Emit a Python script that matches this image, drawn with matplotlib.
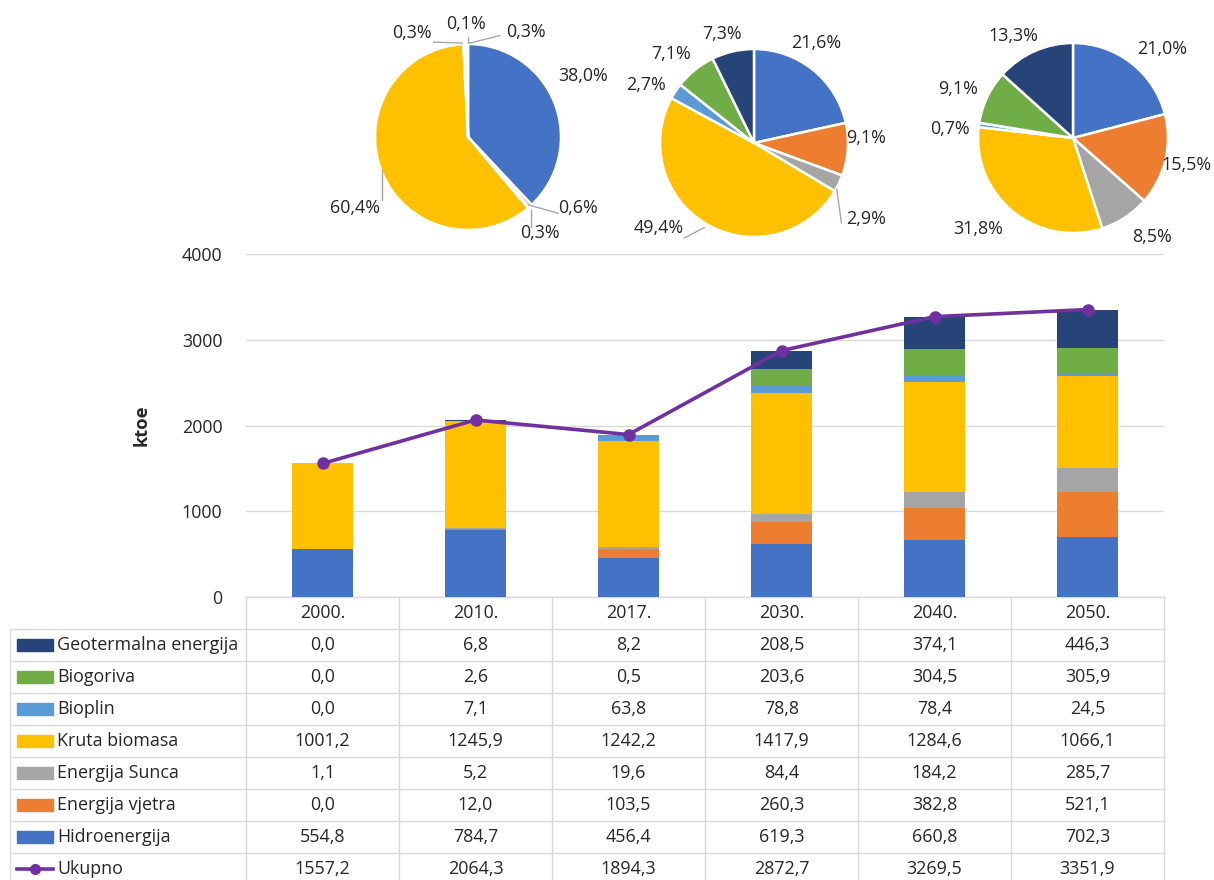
import matplotlib
matplotlib.use('Agg')
import matplotlib.pyplot as plt
from matplotlib.patches import Rectangle
from matplotlib.lines import Line2D
import numpy as np

plt.rcParams['font.family'] = ['Open Sans', 'DejaVu Sans']

# ---------------- data ----------------
years = ['2000.', '2010.', '2017.', '2030.', '2040.', '2050.']
series_names = ['Hidroenergija', 'Energija vjetra', 'Energija Sunca', 'Kruta biomasa',
                'Bioplin', 'Biogoriva', 'Geotermalna energija']
hidro = [554.8, 784.7, 456.4, 619.3, 660.8, 702.3]
vjetar = [0.0, 12.0, 103.5, 260.3, 382.8, 521.1]
sunce = [1.1, 5.2, 19.6, 84.4, 184.2, 285.7]
kruta = [1001.2, 1245.9, 1242.2, 1417.9, 1284.6, 1066.1]
bioplin = [0.0, 7.1, 63.8, 78.8, 78.4, 24.5]
biogoriva = [0.0, 2.6, 0.5, 203.6, 304.5, 305.9]
geo = [0.0, 6.8, 8.2, 208.5, 374.1, 446.3]
ukupno = [1557.2, 2064.3, 1894.3, 2872.7, 3269.5, 3351.9]
total_name = 'Ukupno'
pie_years = ['2010.', '2030.', '2050.']
y_ticks = [0, 1000, 2000, 3000, 4000]
y_label = 'ktoe'

# ---------------- style ----------------
colors = ['#4472C4', '#ED7D31', '#A5A5A5', '#FFC000', '#5B9BD5', '#70AD47', '#264478']
line_color = '#7030A0'
grid_color = '#D9D9D9'
text_color = '#262626'
fs = 12.9

W, H = 1214, 880
fig = plt.figure(figsize=(W / 100, H / 100), dpi=100)

def fx(px):
    return px / W

def fy(py):
    return 1 - py / H

# overlay axes for table (pixel coords)
tax = fig.add_axes([0, 0, 1, 1])
tax.set_xlim(0, W)
tax.set_ylim(H, 0)
tax.axis('off')
tax.set_zorder(0)

# ---------------- bar chart ----------------
pl, pr, pt, pb = 246, 1164, 254, 597
ax = fig.add_axes([fx(pl), fy(pb), fx(pr - pl), (pb - pt) / H])
ax.set_zorder(2)
ax.patch.set_alpha(0)
series = [hidro, vjetar, sunce, kruta, bioplin, biogoriva, geo]
x = np.arange(len(years))
bottom = np.zeros(len(years))
for vals, c in zip(series, colors):
    ax.bar(x, vals, 0.4, bottom=bottom, color=c, zorder=2)
    bottom += np.array(vals)
ax.plot(x, ukupno, color=line_color, lw=2.6, marker='o', ms=8, zorder=4)
ax.set_xlim(-0.5, len(years) - 0.5)
ax.set_ylim(y_ticks[0], y_ticks[-1])
ax.set_yticks(y_ticks)
ax.set_yticklabels([str(t) for t in y_ticks], fontsize=fs, color=text_color)
ax.tick_params(axis='y', length=0, pad=17)
ax.set_xticks([])
for s in ax.spines.values():
    s.set_visible(False)
ax.yaxis.grid(True, color=grid_color, lw=1, zorder=0)
ax.set_axisbelow(True)
ax.set_ylabel(y_label, fontsize=fs + 0.3, fontweight='bold', color=text_color)
ax.yaxis.set_label_coords((151 - pl) / (pr - pl), 0.5)

# ---------------- data table ----------------
ncol = len(years)
colw = (pr - pl) / ncol
row_h = 32
header_top = pb
first_row = 629
lc = grid_color
tax.plot([pl, pr], [header_top, header_top], color=lc, lw=1)
for k in range(ncol + 1):
    tax.plot([pl + k * colw] * 2, [header_top, H + 10], color=lc, lw=1)
for k, yr in enumerate(years):
    tax.text(pl + (k + 0.5) * colw, (header_top + first_row) / 2, yr, ha='center', va='center',
             fontsize=fs, color=text_color)
rows = [(series_names[i], series[i], colors[i]) for i in range(len(series) - 1, -1, -1)]
rows.append((total_name, ukupno, None))
tax.plot([10, 10], [first_row, H + 10], color=lc, lw=1)
for r, (name, vals, c) in enumerate(rows):
    y0 = first_row + r * row_h
    tax.plot([10, pr], [y0, y0], color=lc, lw=1)
    yc = y0 + row_h / 2
    if c is not None:
        tax.add_patch(Rectangle((17, yc - 6), 36, 12, color=c))
    else:
        tax.add_line(Line2D([17, 53], [yc, yc], color=line_color, lw=2.6))
        tax.plot([35], [yc], marker='o', ms=7, color=line_color)
    tax.text(57, yc, name, ha='left', va='center', fontsize=fs, color=text_color)
    for k, v in enumerate(vals):
        tax.text(pl + (k + 0.5) * colw, yc, f'{v:.1f}'.replace('.', ','), ha='center',
                 va='center', fontsize=fs, color=text_color)

# ---------------- pies ----------------
pie_geom = [((468, 137), 93), ((754, 143), 94), ((1073, 138), 95)]
label_pos = [
    [(1.24, 0.66), (1.18, -0.76), (0.77, -1.03), (-1.22, -0.76), (-0.60, 1.12), (-0.02, 1.22), (0.62, 1.13)],
    [(0.66, 1.06), (1.19, 0.05), (1.19, -0.81), (-1.01, -0.90), (-1.15, 0.62), (-0.88, 0.95), (-0.34, 1.16)],
    [(0.94, 0.94), (1.19, -0.28), (0.83, -1.04), (-1.00, -0.96), (-1.30, 0.10), (-1.21, 0.52), (-0.63, 1.07)],
]
leaders = [
    [((0.65, -0.73), (0.97, -0.82)), ((0.68, -0.78), (0.68, -0.97)), ((-0.92, -0.35), (-0.92, -0.68)),
     ((-0.06, 1.01), (-0.37, 1.02)), ((0.0, 1.01), (0.0, 1.08)), ((0.02, 1.01), (0.34, 1.09))],
    [((0.88, -0.49), (0.93, -0.85)), ((-0.53, -0.90), (-0.74, -1.01))],
    [],
]
for p, yr in enumerate(pie_years):
    idx = years.index(yr)
    vals = [s[idx] for s in series]
    tot = sum(vals)
    (cx, cy), r = pie_geom[p]
    pax = fig.add_axes([fx(cx - r), fy(cy + r), 2 * r / W, 2 * r / H])
    pax.set_zorder(3)
    pax.pie(vals, colors=colors, startangle=90, counterclock=False, radius=1,
            wedgeprops=dict(edgecolor='white', linewidth=1.8))
    pax.set_xlim(-1, 1)
    pax.set_ylim(-1, 1)
    pax.set_aspect('auto')
    pax.axis('off')
    for (a, b) in leaders[p]:
        pax.add_line(Line2D([a[0], b[0]], [a[1], b[1]], color='#A6A6A6', lw=1, clip_on=False))
    for v, (lx, ly) in zip(vals, label_pos[p]):
        pct = f'{100 * v / tot:.1f}%'.replace('.', ',')
        pax.text(lx, ly, pct, ha='center', va='center', fontsize=fs, color=text_color,
                 clip_on=False)

fig.savefig('out.png', dpi=100, facecolor='white')
